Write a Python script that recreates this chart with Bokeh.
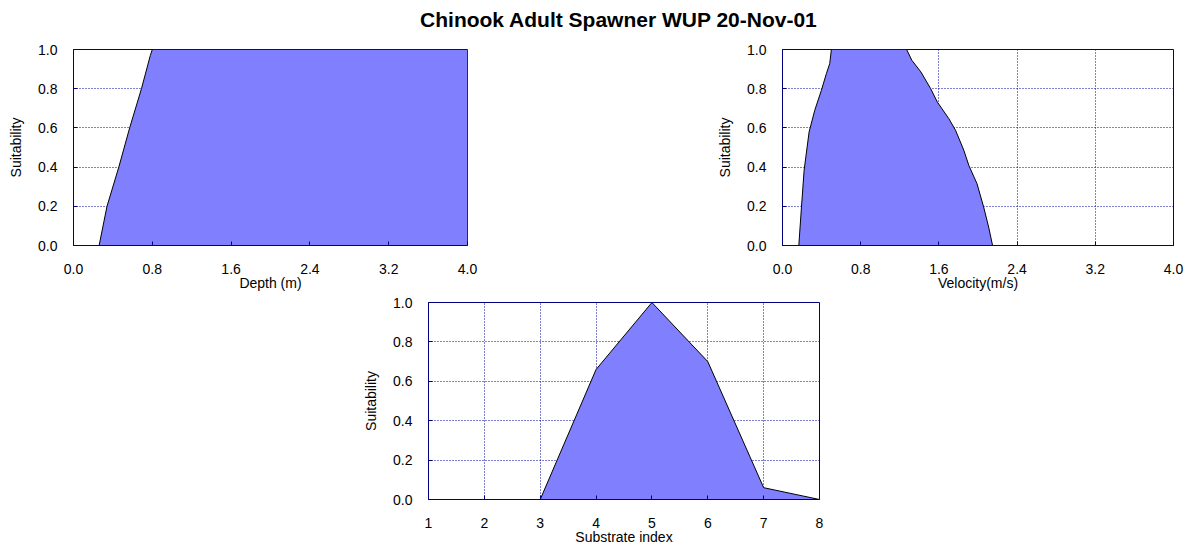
from bokeh.plotting import figure
from bokeh.layouts import column, row, Spacer
from bokeh.models import Range1d, FixedTicker, PrintfTickFormatter
from bokeh.embed import file_html
from bokeh.resources import INLINE
from bokeh.core.properties import value

TITLE = "Chinook Adult Spawner WUP 20-Nov-01"

# Depth habitat suitability curve
depth_m = [0.0, 0.26, 0.34, 0.46, 0.57, 0.69, 0.78, 0.80, 4.0]
depth_suit = [0.0, 0.0, 0.2, 0.4, 0.6, 0.8, 0.97, 1.0, 1.0]

# Velocity habitat suitability curve
velocity_ms = [0.0, 0.167, 0.194, 0.221, 0.272, 0.330, 0.398, 0.449, 0.483, 0.500,
               1.270, 1.323, 1.415, 1.516, 1.584, 1.702, 1.770, 1.855, 1.906, 1.990,
               2.058, 2.109, 2.149, 4.0]
velocity_suit = [0.0, 0.0, 0.196, 0.383, 0.579, 0.69, 0.792, 0.877, 0.928, 1.0,
                 1.0, 0.945, 0.886, 0.80, 0.732, 0.647, 0.588, 0.486, 0.409, 0.315,
                 0.196, 0.094, 0.0, 0.0]

# Substrate habitat suitability curve
substrate_idx = [1, 2, 3, 4, 5, 6, 7, 8]
substrate_suit = [0.0, 0.0, 0.0, 0.66, 1.0, 0.70, 0.06, 0.0]

range_ticks = [0.0, 0.8, 1.6, 2.4, 3.2, 4.0]
substrate_ticks = [1, 2, 3, 4, 5, 6, 7, 8]
suit_ticks = [0.0, 0.2, 0.4, 0.6, 0.8, 1.0]

FILL = "#8080FF"
NAVY = "#000080"
GRID = "#0000A0"
FONT = "Liberation Sans"


def make_panel(x, y, xlabel, xticks, xfmt, xr, width, height, top, bottom, left, right):
    p = figure(width=width, height=height, x_range=Range1d(*xr), y_range=Range1d(0, 1),
               toolbar_location=None, output_backend="svg",
               min_border_top=top, min_border_bottom=bottom,
               min_border_left=left, min_border_right=right)
    p.background_fill_color = "white"
    p.border_fill_color = "white"
    p.outline_line_color = NAVY
    p.outline_line_width = 1

    p.varea(x=x, y1=0, y2=y, fill_color=FILL, fill_alpha=1.0)
    p.line(x=x, y=y, line_color="black", line_width=1)

    p.xaxis.ticker = FixedTicker(ticks=xticks)
    p.xaxis.formatter = PrintfTickFormatter(format=xfmt)
    p.yaxis.ticker = FixedTicker(ticks=suit_ticks)
    p.yaxis.formatter = PrintfTickFormatter(format="%.1f")
    p.xgrid.ticker = FixedTicker(ticks=xticks)
    p.ygrid.ticker = FixedTicker(ticks=suit_ticks)

    for g in (p.xgrid, p.ygrid):
        g.grid_line_color = GRID
        g.grid_line_dash = "1 2"
        g.grid_line_width = 1

    for ax in (p.xaxis, p.yaxis):
        ax.axis_line_color = NAVY
        ax.major_tick_line_color = NAVY
        ax.major_tick_in = 4
        ax.major_tick_out = 0
        ax.minor_tick_line_color = None
        ax.major_label_text_font = FONT
        ax.major_label_text_font_size = "14px"
        ax.major_label_text_color = "black"
        ax.axis_label_text_font = FONT
        ax.axis_label_text_font_size = "14px"
        ax.axis_label_text_font_style = "normal"
        ax.axis_label_text_color = "black"

    p.xaxis.axis_label = xlabel
    p.xaxis.major_label_standoff = 18
    p.xaxis.axis_label_standoff = -2
    p.yaxis.axis_label = "Suitability"
    p.yaxis.major_label_standoff = 16
    p.yaxis.axis_label_standoff = 11
    return p


# title strip
pt = figure(width=1185, height=38, x_range=Range1d(0, 1), y_range=Range1d(0, 1),
            toolbar_location=None, output_backend="svg",
            x_axis_location=None, y_axis_location=None,
            min_border_left=52, min_border_right=0, min_border_top=0, min_border_bottom=0)
pt.outline_line_color = None
pt.grid.visible = False
pt.text(x=[0.5], y=[0.513], text=[TITLE], text_align="center", text_baseline="middle",
        text_font=value(FONT), text_font_style="bold", text_font_size="21px",
        text_color="black")

p1 = make_panel(depth_m, depth_suit, "Depth (m)", range_ticks, "%.1f", (0, 4),
                width=480, height=11 + 196 + 48, top=11, bottom=48, left=73, right=13)
p2 = make_panel(velocity_ms, velocity_suit, "Velocity(m/s)", range_ticks, "%.1f", (0, 4),
                width=470, height=11 + 196 + 48, top=11, bottom=48, left=65, right=11)
p3 = make_panel(substrate_idx, substrate_suit, "Substrate index", substrate_ticks, "%d", (1, 8),
                width=472, height=9 + 197 + 48, top=9, bottom=48, left=65, right=13)

layout = column(pt,
                row(p1, Spacer(width=234, height=10), p2),
                row(Spacer(width=360, height=10), p3),
                spacing=0)

open("out.html", "w").write(file_html(layout, INLINE))
